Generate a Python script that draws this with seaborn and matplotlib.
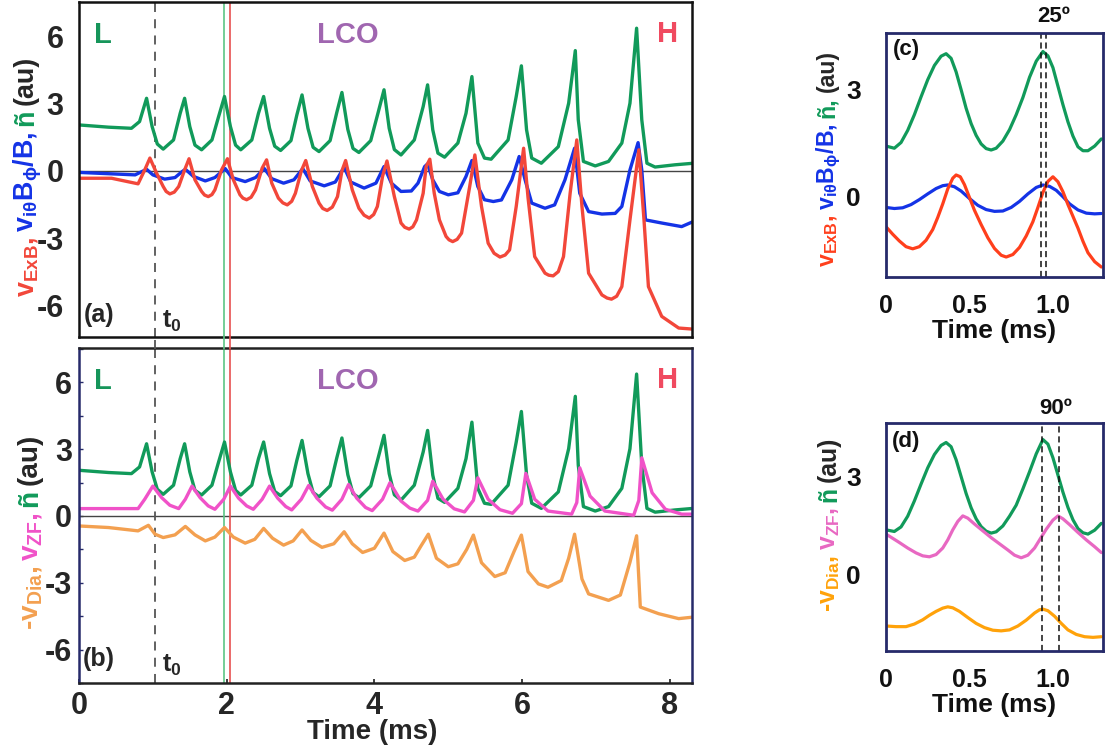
import numpy as np
import matplotlib
matplotlib.use("Agg")
import matplotlib.pyplot as plt
import matplotlib.transforms as mtransforms
from matplotlib.lines import Line2D
import seaborn as sns
from matplotlib import font_manager

# ---------------- data ----------------
# density fluctuation n~ (panels a and b)
t_n = [0, 0.40, 0.71, 0.82, 0.915, 0.99, 1.06, 1.14,
       1.28, 1.37, 1.43, 1.50, 1.57, 1.66,
       1.80, 1.89, 1.97, 2.05, 2.12, 2.19,
       2.34, 2.43, 2.50, 2.58, 2.65, 2.73,
       2.87, 2.95, 3.02, 3.10, 3.17, 3.25,
       3.40, 3.49, 3.56, 3.64, 3.71, 3.79,
       3.95, 4.05, 4.13, 4.20, 4.27, 4.36,
       4.54, 4.66, 4.72, 4.79, 4.86, 4.95,
       5.13, 5.24, 5.32, 5.40, 5.49, 5.58,
       5.81, 5.92, 5.99, 6.06, 6.13, 6.26,
       6.49, 6.63, 6.72, 6.76, 6.83, 6.99,
       7.17, 7.35, 7.46, 7.55, 7.62, 7.69, 7.80, 8.07, 8.32]
v_n = [2.05, 1.95, 1.90, 2.2, 3.24, 1.98, 1.2, 0.97,
       1.38, 2.57, 3.24, 1.98, 1.15, 0.94,
       1.38, 2.42, 3.32, 1.98, 1.15, 0.94,
       1.38, 2.57, 3.32, 1.90, 1.10, 0.91,
       1.35, 2.50, 3.39, 1.90, 1.05, 0.86,
       1.35, 2.60, 3.50, 1.85, 1.00, 0.82,
       1.35, 2.60, 3.62, 1.90, 0.95, 0.71,
       1.38, 2.87, 3.84, 1.83, 0.79, 0.61,
       1.24, 2.57, 4.21, 1.24, 0.57, 0.52,
       1.38, 3.32, 4.69, 1.83, 0.57, 0.34,
       1.08, 3.02, 5.37, 2.28, 0.42, 0.22,
       0.42, 1.24, 3.02, 6.37, 2.28, 0.34, 0.17, 0.27, 0.34]

# v_ExB (panel a)
t_exb = [0, 0.44, 0.80, 0.89, 0.96, 1.05, 1.14, 1.18, 1.23, 1.29, 1.35, 1.43, 1.49, 1.57, 1.66,
         1.70, 1.75, 1.80, 1.84, 1.93, 2.01, 2.09, 2.18, 2.22, 2.27, 2.33, 2.39, 2.48, 2.54,
         2.61, 2.70, 2.76, 2.82, 2.88, 2.93, 3.01, 3.07, 3.16, 3.25, 3.30, 3.36, 3.43, 3.50,
         3.56, 3.61, 3.70, 3.79, 3.86, 3.93, 3.99, 4.04, 4.11, 4.17, 4.27, 4.36, 4.41, 4.47,
         4.52, 4.57, 4.66, 4.70, 4.75, 4.81, 4.88, 4.97, 5.01, 5.06, 5.12, 5.18, 5.29, 5.36,
         5.45, 5.54, 5.62, 5.70, 5.77, 5.83, 5.92, 6.02, 6.08, 6.17, 6.31, 6.36, 6.42, 6.49,
         6.56, 6.65, 6.74, 6.81, 6.90, 7.08, 7.15, 7.21, 7.28, 7.35, 7.46, 7.58, 7.65, 7.71,
         7.89, 8.12, 8.32]
v_exb = [-0.33, -0.33, -0.58, 0.04, 0.57, -0.10, -0.70, -0.92, -1.03, -0.95, -0.70, 0.04, 0.54, -0.40, -0.92,
         -1.08, -1.15, -1.06, -0.85, 0.04, 0.54, -0.40, -1.07, -1.22, -1.29, -1.18, -0.85, 0.12, 0.49,
         -0.55, -1.22, -1.43, -1.52, -1.36, -1.0, 0.0, 0.46, -0.70, -1.44, -1.68, -1.77, -1.62, -1.15,
         0.0, 0.46, -0.85, -1.67, -1.98, -2.11, -1.95, -1.59, -0.25, 0.44, -1.15, -2.33, -2.52, -2.60,
         -2.50, -2.19, -1.0, 0.19, 0.52, -1.0, -2.19, -2.93, -3.08, -3.16, -3.06, -2.78, -0.70, 0.71,
         -1.59, -3.23, -3.68, -3.85, -3.76, -3.53, -1.59, 1.01, -1.2, -3.83, -4.57, -4.66, -4.69, -4.50,
         -3.83, -1.0, 1.38, -1.59, -4.57, -5.54, -5.68, -5.73, -5.60, -5.17, -2.19, 0.94, -2.19, -5.17,
         -6.50, -7.02, -7.07]

# v_i,theta B_phi / B (panel a)
t_vi = [0, 0.76, 0.915, 1.0, 1.16, 1.30, 1.39, 1.44, 1.55, 1.71, 1.84, 1.98, 2.07, 2.25, 2.39,
        2.51, 2.61, 2.77, 2.91, 3.03, 3.13, 3.32, 3.47, 3.59, 3.68, 3.86, 4.02, 4.13, 4.23,
        4.36, 4.50, 4.59, 4.68, 4.72, 4.79, 4.88, 5.0, 5.13, 5.24, 5.32, 5.40, 5.49, 5.61,
        5.72, 5.86, 5.96, 6.04, 6.13, 6.31, 6.44, 6.58, 6.71, 6.78, 6.90, 7.08, 7.26, 7.35,
        7.46, 7.57, 7.62, 7.67, 7.89, 8.16, 8.32]
v_vi = [-0.07, -0.18, 0.07, -0.18, -0.37, -0.30, -0.05, 0.07, -0.25, -0.45, -0.30, 0.10, -0.30, -0.48, -0.30,
        0.10, -0.35, -0.55, -0.40, 0.10, -0.45, -0.67, -0.50, 0.16, -0.50, -0.77, -0.55, 0.19, -0.55,
        -0.92, -0.90, -0.55, 0.19, 0.31, -0.40, -0.92, -1.07, -0.98, -0.25, 0.46, -0.70, -1.29, -1.37,
        -1.30, -0.40, 0.64, -0.40, -1.44, -1.67, -1.52, -0.40, 1.01, -1.0, -1.82, -1.93, -1.90, -1.59,
        0.04, 1.26, 0.04, -2.19, -2.33, -2.49, -2.26]

# v_ZF (panel b)
t_zf = [0, 0.80, 0.89, 1.0, 1.12, 1.23, 1.35, 1.44, 1.53, 1.64, 1.75, 1.84, 1.96, 2.05, 2.16,
        2.27, 2.36, 2.48, 2.58, 2.69, 2.80, 2.88, 3.01, 3.11, 3.22, 3.34, 3.43, 3.56, 3.65,
        3.76, 3.88, 3.97, 4.11, 4.21, 4.36, 4.48, 4.59, 4.72, 4.79, 4.93, 5.08, 5.22, 5.34,
        5.40, 5.54, 5.70, 5.87, 5.99, 6.05, 6.17, 6.35, 6.67, 6.74, 6.78, 6.92, 7.12, 7.51,
        7.58, 7.62, 7.76, 7.94, 8.16, 8.32]
v_zf = [0.33, 0.33, 0.75, 1.34, 0.82, 0.48, 0.33, 0.75, 1.34, 0.82, 0.45, 0.30, 0.75, 1.34, 0.80,
        0.45, 0.30, 0.75, 1.34, 0.80, 0.42, 0.27, 0.75, 1.37, 0.80, 0.40, 0.26, 0.75, 1.41,
        0.80, 0.38, 0.24, 0.75, 1.49, 0.67, 0.35, 0.22, 0.70, 1.56, 0.75, 0.32, 0.18, 0.70,
        1.71, 0.75, 0.28, 0.12, 0.55, 1.91, 0.75, 0.22, 0.08, 0.60, 2.16, 0.89, 0.22, 0.03,
        0.70, 2.61, 1.04, 0.30, 0.08, 0.08]

# -v_Dia (panel b)
t_dia = [0, 0.40, 0.80, 0.94, 1.03, 1.14, 1.30, 1.44, 1.57, 1.71, 1.84, 1.97, 2.09, 2.25, 2.38,
         2.50, 2.62, 2.77, 2.90, 3.02, 3.14, 3.29, 3.45, 3.59, 3.70, 3.84, 4.00, 4.13, 4.25,
         4.41, 4.54, 4.63, 4.73, 4.84, 5.0, 5.13, 5.25, 5.34, 5.45, 5.63, 5.77, 5.89, 5.99,
         6.08, 6.22, 6.35, 6.53, 6.63, 6.71, 6.81, 6.90, 7.17, 7.33, 7.46, 7.55, 7.60, 7.85,
         8.12, 8.32]
v_dia = [-0.45, -0.52, -0.67, -0.42, -0.82, -0.97, -0.85, -0.47, -0.85, -1.12, -0.95, -0.52, -0.95, -1.22, -1.05,
         -0.56, -1.0, -1.31, -1.12, -0.63, -1.10, -1.41, -1.25, -0.71, -1.25, -1.64, -1.45, -0.77, -1.60,
         -2.0, -1.85, -1.35, -0.82, -1.90, -2.28, -2.15, -1.5, -0.86, -2.10, -2.72, -2.55, -1.6, -0.86,
         -2.5, -3.05, -3.20, -2.90, -1.9, -0.82, -2.83, -3.50, -3.79, -3.55, -2.08, -0.89, -4.09, -4.39,
         -4.61, -4.54]

# panel c (zoom of two cycles)
tc_n = [0.0, 0.05, 0.09, 0.13, 0.17, 0.21, 0.25, 0.29, 0.33, 0.36, 0.39, 0.42, 0.45, 0.48, 0.51,
        0.54, 0.57, 0.60, 0.63, 0.66, 0.70, 0.74, 0.78, 0.82, 0.86, 0.90, 0.94, 0.97, 1.00,
        1.03, 1.06, 1.09, 1.12, 1.15, 1.18, 1.21, 1.25, 1.29]
vc_n = [1.42, 1.36, 1.52, 1.86, 2.30, 2.80, 3.28, 3.68, 3.94, 4.01, 3.88, 3.50, 3.00, 2.48, 2.05,
        1.72, 1.48, 1.35, 1.31, 1.36, 1.56, 1.88, 2.30, 2.78, 3.35, 3.80, 4.07, 3.95, 3.62,
        3.10, 2.58, 2.10, 1.70, 1.40, 1.29, 1.29, 1.42, 1.62]
tc_vi = [0.0, 0.05, 0.10, 0.15, 0.20, 0.25, 0.30, 0.34, 0.37, 0.41, 0.45, 0.50, 0.55, 0.60, 0.65,
         0.70, 0.75, 0.80, 0.85, 0.90, 0.94, 0.98, 1.02, 1.06, 1.10, 1.15, 1.20, 1.25, 1.29]
vc_vi = [-0.30, -0.33, -0.31, -0.22, -0.08, 0.08, 0.23, 0.31, 0.33, 0.28, 0.16, -0.05, -0.24, -0.36, -0.41,
         -0.40, -0.30, -0.13, 0.08, 0.26, 0.33, 0.29, 0.18, 0.0, -0.20, -0.37, -0.46, -0.48, -0.47]
tc_exb = [0.0, 0.04, 0.08, 0.12, 0.16, 0.20, 0.24, 0.28, 0.31, 0.34, 0.37, 0.40, 0.42, 0.445, 0.47,
          0.50, 0.53, 0.57, 0.61, 0.65, 0.69, 0.72, 0.76, 0.80, 0.84, 0.88, 0.91, 0.94, 0.97,
          1.00, 1.03, 1.06, 1.09, 1.12, 1.15, 1.18, 1.21, 1.25, 1.29]
vc_exb = [-0.84, -1.05, -1.24, -1.40, -1.46, -1.40, -1.22, -0.92, -0.58, -0.20, 0.22, 0.52, 0.61, 0.56, 0.34,
          -0.02, -0.38, -0.78, -1.15, -1.45, -1.64, -1.69, -1.62, -1.42, -1.10, -0.70, -0.30, 0.12, 0.43,
          0.56, 0.42, 0.14, -0.22, -0.55, -0.88, -1.25, -1.57, -1.82, -1.97]
phase_c = [0.93, 0.957]

# panel d
td_n = [0.0, 0.05, 0.09, 0.13, 0.17, 0.21, 0.25, 0.29, 0.33, 0.36, 0.39, 0.42, 0.45, 0.48, 0.51,
        0.54, 0.57, 0.60, 0.63, 0.66, 0.70, 0.74, 0.78, 0.82, 0.86, 0.90, 0.94, 0.97, 1.00,
        1.03, 1.06, 1.09, 1.12, 1.15, 1.18, 1.21, 1.25, 1.29]
vd_n = [1.36, 1.31, 1.45, 1.78, 2.25, 2.77, 3.27, 3.68, 3.96, 4.05, 3.92, 3.52, 3.00, 2.48, 2.04,
        1.70, 1.46, 1.32, 1.26, 1.30, 1.48, 1.78, 2.12, 2.62, 3.15, 3.70, 4.14, 4.00, 3.58,
        3.05, 2.52, 2.05, 1.67, 1.40, 1.27, 1.23, 1.35, 1.56]
td_zf = [0.0, 0.04, 0.08, 0.13, 0.18, 0.22, 0.26, 0.30, 0.34, 0.37, 0.40, 0.43, 0.46, 0.49, 0.53,
         0.58, 0.63, 0.68, 0.73, 0.77, 0.81, 0.85, 0.89, 0.92, 0.96, 1.00, 1.03, 1.06, 1.10,
         1.15, 1.20, 1.25, 1.29]
vd_zf = [1.23, 1.10, 0.97, 0.80, 0.65, 0.56, 0.53, 0.60, 0.80, 1.05, 1.36, 1.62, 1.79, 1.72, 1.54,
         1.33, 1.12, 0.93, 0.74, 0.58, 0.50, 0.58, 0.80, 1.05, 1.38, 1.66, 1.79, 1.70, 1.52,
         1.28, 1.05, 0.84, 0.66]
td_dia = [0.0, 0.06, 0.12, 0.17, 0.22, 0.26, 0.30, 0.34, 0.37, 0.40, 0.44, 0.49, 0.54, 0.59, 0.64,
          0.69, 0.74, 0.79, 0.84, 0.89, 0.92, 0.94, 0.97, 1.01, 1.05, 1.09, 1.14, 1.19, 1.24, 1.29]
vd_dia = [-1.60, -1.62, -1.62, -1.54, -1.41, -1.27, -1.15, -1.05, -1.01, -1.04, -1.15, -1.34, -1.52, -1.65, -1.73,
          -1.75, -1.72, -1.60, -1.42, -1.20, -1.10, -1.08, -1.13, -1.30, -1.52, -1.72, -1.86, -1.93, -1.95, -1.93]
phase_d = [0.936, 1.036]

t0_time = 1.03
vline_green = 1.97
vline_red = 2.04
yticks_ab = [-6, -3, 0, 3, 6]
xticks_b = [0, 2, 4, 6, 8]
yticks_cd = [0, 3]
xticks_cd = [0, 0.5, 1.0]
xticklabels_cd = ["0", "0.5", "1.0"]

# ---------------- style ----------------
sns.set_theme(style="white")
names = {f.name for f in font_manager.fontManager.ttflist}
NARROW = 'Liberation Sans Narrow' if 'Liberation Sans Narrow' in names else 'Liberation Sans'
plt.rcParams['font.family'] = ['Liberation Sans', 'DejaVu Sans']
plt.rcParams['axes.unicode_minus'] = False
plt.rcParams['mathtext.fontset'] = 'custom'
plt.rcParams['mathtext.bf'] = 'Liberation Sans:bold'
plt.rcParams['mathtext.rm'] = 'Liberation Sans:bold'
plt.rcParams['mathtext.it'] = 'Liberation Sans:bold:italic'

C_N = '#119a5a'
C_EXB = '#f2473a'
C_VI = '#1433e6'
C_ZF = '#f052c8'
C_DIA = '#f3a050'
C_EXB_C = '#ff3f1c'
C_DIA_D = '#ffa20a'
C_ZF_D = '#e868c2'
C_TXT = '#262626'
NAVY = '#262a6a'

W, H = 1108, 754
fig = plt.figure(figsize=(W / 100, H / 100), dpi=100)
fig.patch.set_facecolor('white')


def add_ax(l, t, r, b):
    return fig.add_axes([l / W, 1 - b / H, (r - l) / W, (b - t) / H])


ax_a = add_ax(79, 2, 692, 337)
ax_b = add_ax(79, 348, 692, 683)
ax_c = add_ax(886, 33, 1103, 277)
ax_d = add_ax(886, 423, 1103, 651)


def draw(ax, t, v, color, lw=2.4):
    sns.lineplot(x=np.asarray(t), y=np.asarray(v), ax=ax, color=color, linewidth=lw,
                 estimator=None, sort=False)


# ---- panels a, b ----
VLINES = [(t0_time, '#555555', 1.3, (0, (5, 4))),
          (vline_green, '#5cc585', 1.2, '-'),
          (vline_red, '#e85050', 1.2, '-')]
for ax in (ax_a, ax_b):
    ax.axhline(0, color='#444444', lw=1.0, zorder=1)
    for x, c, lw, ls in VLINES:
        ax.axvline(x, color=c, lw=lw, ls=ls, zorder=1)

draw(ax_a, t_n, v_n, C_N)
draw(ax_a, t_vi, v_vi, C_VI)
draw(ax_a, t_exb, v_exb, C_EXB)

draw(ax_b, t_n, v_n, C_N)
draw(ax_b, t_dia, v_dia, C_DIA)
draw(ax_b, t_zf, v_zf, C_ZF)

for ax, lab in ((ax_a, '(a)'), (ax_b, '(b)')):
    ax.set_xlim(0, 8.30)
    ax.set_ylim(-7.42, 7.54)
    ax.set_xlabel('')
    ax.set_ylabel('')
    ax.set_yticks(yticks_ab, [str(v) for v in yticks_ab], fontfamily=NARROW,
                  fontweight='bold', fontsize=22, color=C_TXT)
    ax.tick_params(axis='y', pad=5)
    ax.text(0.33, 6.05, 'L', color='#16955a', fontsize=21, fontweight='bold', ha='center', va='center')
    ax.text(3.64, 6.05, 'LCO', color='#a066b0', fontsize=21, fontweight='bold', ha='center', va='center')
    ax.text(7.97, 6.12, 'H', color='#f04a60', fontsize=21, fontweight='bold', ha='center', va='center')
    ax.text(0.27, -6.42, lab, color=C_TXT, fontsize=18, fontweight='bold', ha='center', va='center',
            fontfamily=NARROW)
    ax.text(1.26, -6.72, r'$\mathbf{t}_{\mathbf{0}}$', color=C_TXT, fontsize=18, ha='center', va='center')

# the marker lines continue through the gap between panels a and b
gap_tr = mtransforms.blended_transform_factory(ax_a.transData, fig.transFigure)
for x, c, lw, ls in VLINES:
    fig.add_artist(Line2D([x, x], [1 - 349 / H, 1 - 336 / H], transform=gap_tr, color=c, lw=lw, ls=ls))

ax_a.set_xticks(xticks_b)
ax_a.tick_params(axis='x', labelbottom=False, bottom=False)
for s in ax_a.spines.values():
    s.set_color('#111111')
    s.set_linewidth(1.8)

ax_b.set_xticks(xticks_b, [str(v) for v in xticks_b], fontfamily=NARROW, fontweight='bold',
                fontsize=22, color=C_TXT)
ax_b.set_yticks(np.arange(-7.5, 7.6, 1.5), minor=True)
ax_b.tick_params(axis='y', which='both', left=True, direction='in', length=3, width=1, color=NAVY)
ax_b.tick_params(axis='x', bottom=True, direction='in', length=3, pad=6)
ax_b.set_xlabel('Time (ms)', fontfamily=NARROW, fontweight='bold', fontsize=20, color=C_TXT)
ax_b.xaxis.set_label_coords(0.478, -0.108)
for k, s in ax_b.spines.items():
    s.set_linewidth(1.8)
    s.set_color(NAVY if k in ('left', 'right') else '#222222')

# ---- panels c, d ----
draw(ax_c, tc_n, vc_n, C_N, 2.3)
draw(ax_c, tc_vi, vc_vi, C_VI, 2.3)
draw(ax_c, tc_exb, vc_exb, C_EXB_C, 2.3)
for x in phase_c:
    ax_c.axvline(x, color='#111111', lw=1.1, ls=(0, (4, 2.5)))
ax_c.set_ylim(-2.25, 4.59)
ax_c.text(0.123, 4.12, '(c)', fontsize=16, fontweight='bold', color='#111111', ha='center', va='center')
ax_c.text(1.006, 5.06, '25º', fontsize=16, fontweight='bold', color='#111111', ha='center', va='center',
          clip_on=False)

draw(ax_d, td_n, vd_n, C_N, 2.3)
draw(ax_d, td_zf, vd_zf, C_ZF_D, 2.3)
draw(ax_d, td_dia, vd_dia, C_DIA_D, 2.3)
for x in phase_d:
    ax_d.axvline(x, color='#111111', lw=1.1, ls=(0, (4, 2.5)))
ax_d.set_ylim(-2.37, 4.65)
ax_d.text(0.123, 4.08, '(d)', fontsize=16, fontweight='bold', color='#111111', ha='center', va='center')
ax_d.text(1.016, 5.11, '90º', fontsize=16, fontweight='bold', color='#111111', ha='center', va='center',
          clip_on=False)

for ax in (ax_c, ax_d):
    ax.set_xlim(0, 1.30)
    ax.set_ylabel('')
    ax.set_xticks(xticks_cd, xticklabels_cd, fontweight='bold', fontsize=18, color='#111111')
    ax.set_yticks(yticks_cd, [str(v) for v in yticks_cd], fontweight='bold', fontsize=19, color='#111111')
    ax.tick_params(axis='x', pad=6)
    ax.tick_params(axis='y', pad=12)
    ax.set_xlabel('Time (ms)', fontweight='bold', fontsize=19, color='#111111', labelpad=1)
    for s in ax.spines.values():
        s.set_color(NAVY)
        s.set_linewidth(2.0)

# ---------------- multicolour rotated y labels ----------------
renderer = fig.canvas.get_renderer()


def stack_label(x_base, y_bottom, y_top, pieces, size, gap=5):
    def place(sz):
        texts = []
        y = H - y_bottom
        for txt, col in pieces:
            t = fig.text(x_base / W, y / H, txt, rotation=90, rotation_mode='anchor', ha='left',
                         va='baseline', color=col, fontsize=sz, fontweight='bold')
            bb = t.get_window_extent(renderer)
            y += bb.height + gap
            texts.append(t)
        return texts, (y - gap) - (H - y_bottom)
    texts, length = place(size)
    target = y_bottom - y_top
    for t in texts:
        t.remove()
    place(size * target / length)


lab_a = [(r'$\mathbf{v}_{\mathbf{ExB}}$,', C_EXB),
         (r'$\mathbf{v}_{\mathbf{i\theta}}\mathbf{B}_{\mathbf{\phi}}$/B,', C_VI),
         ('ñ', C_N), ('(au)', C_TXT)]
lab_b = [(r'-$\mathbf{v}_{\mathbf{Dia}}$,', C_DIA), (r'$\mathbf{v}_{\mathbf{ZF}}$,', C_ZF),
         ('ñ', C_N), ('(au)', C_TXT)]
lab_c = [(r'$\mathbf{v}_{\mathbf{ExB}}$,', C_EXB_C),
         (r'$\mathbf{v}_{\mathbf{i\theta}}\mathbf{B}_{\mathbf{\phi}}$/B,', C_VI),
         ('ñ,', C_N), ('(au)', C_TXT)]
lab_d = [(r'-$\mathbf{v}_{\mathbf{Dia}}$,', C_DIA_D), (r'$\mathbf{v}_{\mathbf{ZF}}$,', C_ZF_D),
         ('ñ', C_N), ('(au)', C_TXT)]

stack_label(33, 297, 53, lab_a, 17)
stack_label(37, 630, 430, lab_b, 17)
stack_label(834, 267, 47, lab_c, 15)
stack_label(836, 612, 432, lab_d, 15)

fig.savefig('out.png', dpi=100, facecolor='white')
